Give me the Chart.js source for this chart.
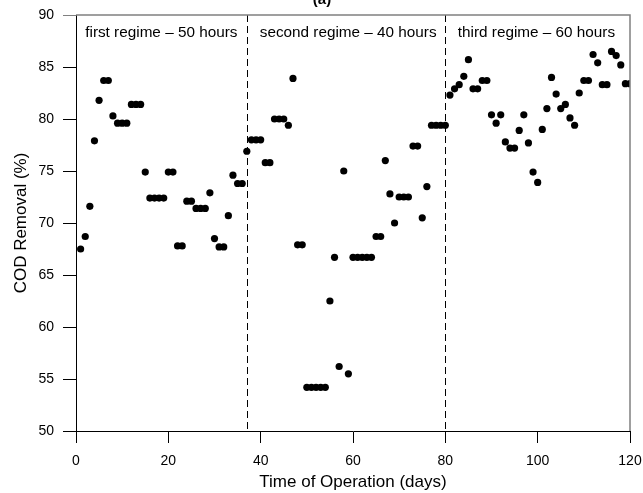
<!DOCTYPE html>
<html>
<head>
<meta charset="utf-8">
<script src="https://cdn.jsdelivr.net/npm/chart.js@4/dist/chart.umd.min.js"></script>
<style>
  html, body { margin: 0; padding: 0; background: #fff; }
  #wrap { width: 643px; height: 493px; }
</style>
</head>
<body>
<div id="wrap"><canvas id="cod-chart" width="643" height="493"></canvas></div>
<script>
// ─── Data ────────────────────────────────────────────────────────────────────

const days = [
  1, 2, 3, 4, 5, 6, 7, 8, 9, 10, 11, 12, 13, 14, 15, 16, 17, 18, 19, 20,
  21, 22, 23, 24, 25, 26, 27, 28, 29, 30, 31, 32, 33, 34, 35, 36, 37, 38, 39, 40,
  41, 42, 43, 44, 45, 46, 47, 48, 49, 50, 51, 52, 53, 54, 55, 56, 57, 58, 59, 60,
  61, 62, 63, 64, 65, 66, 67, 68, 69, 70, 71, 72, 73, 74, 75, 76, 77, 78, 79, 80,
  81, 82, 83, 84, 85, 86, 87, 88, 89, 90, 91, 92, 93, 94, 95, 96, 97, 98, 99, 100,
  101, 102, 103, 104, 105, 106, 107, 108, 109, 110, 111, 112, 113, 114, 115, 116, 117, 118, 119, 120,
];

const codRemoval = [
  67.5, 68.7, 71.6, 77.9, 81.8, 83.7, 83.7, 80.3, 79.6, 79.6,
  79.6, 81.4, 81.4, 81.4, 74.9, 72.4, 72.4, 72.4, 72.4, 74.9,
  74.9, 67.8, 67.8, 72.1, 72.1, 71.4, 71.4, 71.4, 72.9, 68.5,
  67.7, 67.7, 70.7, 74.6, 73.8, 73.8, 76.9, 78.0, 78.0, 78.0,
  75.8, 75.8, 80.0, 80.0, 80.0, 79.4, 83.9, 67.9, 67.9, 54.2,
  54.2, 54.2, 54.2, 54.2, 62.5, 66.7, 56.2, 75.0, 55.5, 66.7,
  66.7, 66.7, 66.7, 66.7, 68.7, 68.7, 76.0, 72.8, 70.0, 72.5,
  72.5, 72.5, 77.4, 77.4, 70.5, 73.5, 79.4, 79.4, 79.4, 79.4,
  82.3, 82.9, 83.3, 84.1, 85.7, 82.9, 82.9, 83.7, 83.7, 80.4,
  79.6, 80.4, 77.8, 77.2, 77.2, 78.9, 80.4, 77.7, 74.9, 73.9,
  79.0, 81.0, 84.0, 82.4, 81.0, 81.4, 80.1, 79.4, 82.5, 83.7,
  83.7, 86.2, 85.4, 83.3, 83.3, 86.5, 86.1, 85.2, 83.4, 83.4,
];

const regimeBounds = [37, 80];
const regimeLabels = [
  "first regime \u2013 50 hours",
  "second regime \u2013 40 hours",
  "third regime \u2013 60 hours",
];
const regimeLabelX = [2, 39.8, 82.7];

const xTicks = [0, 20, 40, 60, 80, 100, 120];
const yTicks = [50, 55, 60, 65, 70, 75, 80, 85, 90];

// ─── Helpers ─────────────────────────────────────────────────────────────────

const FONT = "'Liberation Sans', Arial, Helvetica, sans-serif";

const regimePlugin = {
  id: "regimes",
  beforeDatasetsDraw(chart) {
    const { ctx, chartArea, scales } = chart;
    ctx.save();
    // dashed separators
    ctx.strokeStyle = "#000";
    ctx.lineWidth = 1;
    ctx.setLineDash([7, 4]);
    regimeBounds.forEach((b) => {
      const px = Math.round(scales.x.getPixelForValue(b)) + 0.5;
      ctx.beginPath();
      ctx.moveTo(px, chartArea.top);
      ctx.lineTo(px, chartArea.bottom);
      ctx.stroke();
    });
    ctx.setLineDash([]);
    // regime labels
    ctx.fillStyle = "#000";
    ctx.font = `15.3px ${FONT}`;
    ctx.textBaseline = "middle";
    ctx.textAlign = "left";
    regimeLabels.forEach((txt, i) => {
      ctx.fillText(txt, scales.x.getPixelForValue(regimeLabelX[i]), scales.y.getPixelForValue(88.3));
    });
    ctx.restore();
  },
  afterDraw(chart) {
    const { ctx, chartArea } = chart;
    ctx.save();
    // grey top and right frame
    ctx.strokeStyle = "#808080";
    ctx.lineWidth = 1.5;
    ctx.beginPath();
    ctx.moveTo(chartArea.left, chartArea.top);
    ctx.lineTo(chartArea.right, chartArea.top);
    ctx.lineTo(chartArea.right, chartArea.bottom);
    ctx.stroke();
    // partly cropped panel title
    ctx.fillStyle = "#000";
    ctx.font = `bold 15px ${FONT}`;
    ctx.textAlign = "center";
    ctx.textBaseline = "alphabetic";
    ctx.fillText("(a)", 322, 4);
    ctx.restore();
  },
};

// ─── Chart ───────────────────────────────────────────────────────────────────

const ctx = document.getElementById("cod-chart").getContext("2d");

new Chart(ctx, {
  type: "scatter",
  data: {
    datasets: [
      {
        label: "COD Removal",
        data: days.map((d, i) => ({ x: d, y: codRemoval[i] })),
        backgroundColor: "#000",
        borderWidth: 0,
        pointRadius: 3.6,
        pointHoverRadius: 3.6,
      },
    ],
  },
  options: {
    responsive: false,
    animation: false,
    layout: { padding: { top: 15, right: 13, left: 0, bottom: 0 } },
    plugins: {
      legend: { display: false },
      tooltip: { enabled: false },
    },
    scales: {
      x: {
        type: "linear",
        position: "bottom",
        min: 0,
        max: 120,
        afterBuildTicks: (s) => { s.ticks = xTicks.map((v) => ({ value: v })); },
        afterFit: (s) => {
          s.height = 62;
          s.paddingLeft = 0;
          s.paddingRight = 0;
        },
        ticks: { color: "#000", font: { family: FONT, size: 14 }, padding: 10, maxRotation: 0 },
        grid: { drawOnChartArea: false, drawTicks: true, tickLength: 12, color: "#000" },
        border: { display: true, color: "#000", width: 1 },
        title: {
          display: true,
          text: "Time of Operation (days)",
          color: "#000",
          font: { family: FONT, size: 17 },
          padding: { top: 0, bottom: 0 },
        },
      },
      y: {
        type: "linear",
        min: 50,
        max: 90,
        afterBuildTicks: (s) => { s.ticks = yTicks.map((v) => ({ value: v })); },
        afterFit: (s) => {
          s.width = 76;
          s.paddingTop = 0;
          s.paddingBottom = 0;
        },
        ticks: { color: "#000", font: { family: FONT, size: 14 }, padding: 9 },
        grid: {
          drawOnChartArea: false,
          drawTicks: true,
          tickLength: 13,
          color: (c) => (c.tick && c.tick.value === 90 ? "#808080" : "#000"),
        },
        border: { display: true, color: "#000", width: 1 },
        title: {
          display: true,
          text: "COD Removal (%)",
          color: "#000",
          font: { family: FONT, size: 17 },
          padding: { top: 11, bottom: 0 },
        },
      },
    },
  },
  plugins: [regimePlugin],
});
</script>
</body>
</html>
